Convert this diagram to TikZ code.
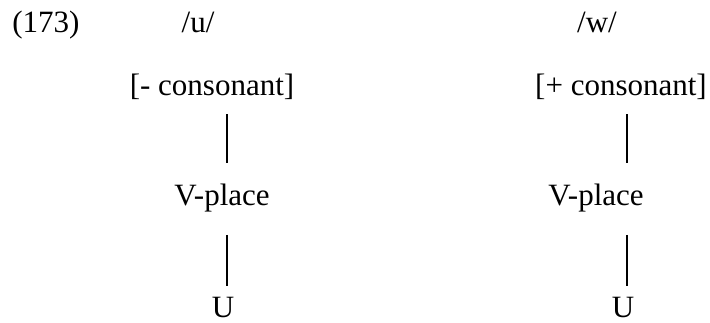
\documentclass[tikz,border=0pt]{standalone}
\usepackage{fontspec}
\setmainfont{Liberation Serif}
\usetikzlibrary{positioning}
\tikzset{
  feat/.style={inner sep=0pt, anchor=base, font=\fontsize{31}{36}\selectfont},
  branch/.style={line width=1.5pt}
}
\begin{document}
\begin{tikzpicture}[x=1pt,y=-1pt]
  \useasboundingbox (0,0) rectangle (710,322);
  \coordinate (axisl) at (227,0);
  \coordinate (axisr) at (627,0);
  \node[feat] (exnum) at (46,32) {(173)};
  \node[feat] (segu) at (198,32) {/u/};
  \node[feat] (segw) at (597,32) {/w/};
  \node[feat] (consl) at (212,95) {[- consonant]};
  \node[feat] (consr) at (621,95) {[+ consonant]};
  \node[feat] (vpl) at (222,205) {V-place};
  \node[feat] (vpr) at (596,205) {V-place};
  \node[feat] (ul) at (223,317) {U};
  \node[feat] (ur) at (623,317) {U};
  % association lines
  \draw[branch, shorten <=15pt, shorten >=20pt] (consl.south -| axisl) -- (vpl.north -| axisl);
  \draw[branch, shorten <=15pt, shorten >=20pt] (consr.south -| axisr) -- (vpr.north -| axisr);
  \draw[branch, shorten <=23pt, shorten >=11pt] (vpl.south -| axisl) -- (ul.north -| axisl);
  \draw[branch, shorten <=23pt, shorten >=11pt] (vpr.south -| axisr) -- (ur.north -| axisr);
\end{tikzpicture}
\end{document}
